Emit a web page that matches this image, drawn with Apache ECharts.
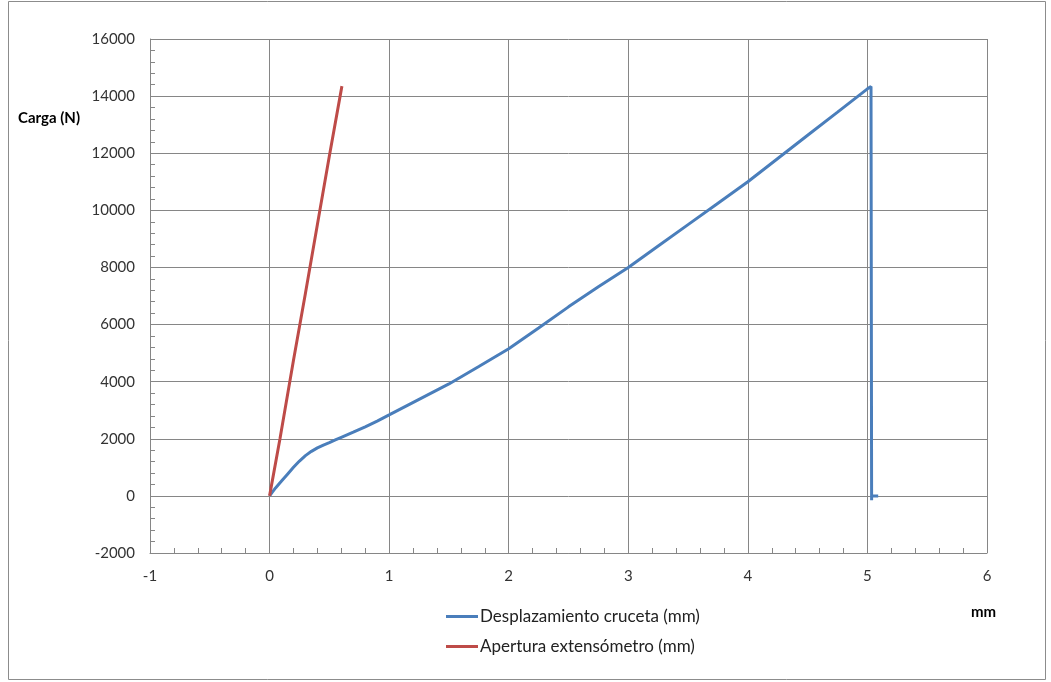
<!DOCTYPE html>
<html>
<head>
<meta charset="utf-8">
<script src="https://cdn.jsdelivr.net/npm/echarts@6/dist/echarts.min.js"></script>
<style>
html,body{margin:0;padding:0;background:#fff;}
#c{width:1051px;height:682px;}
</style>
</head>
<body>
<div id="c"></div>
<script>
const seriesNames = ['Desplazamiento cruceta (mm)', 'Apertura extensómetro (mm)'];
const crucetaX = [0, 0.02, 0.05, 0.1, 0.15, 0.2, 0.25, 0.3, 0.35, 0.4, 0.45, 0.5, 0.55, 0.6, 0.7, 0.8, 0.9, 1.0, 1.25, 1.5, 1.75, 2.0, 2.25, 2.5, 2.75, 3.0, 3.25, 3.5, 3.75, 4.0, 4.25, 4.5, 4.75, 5.0, 5.03, 5.035, 5.035, 5.09];
const crucetaY = [0, 115, 280, 520, 760, 1000, 1220, 1410, 1560, 1680, 1780, 1865, 1960, 2050, 2230, 2420, 2620, 2836, 3380, 3920, 4530, 5150, 5880, 6620, 7320, 8000, 8750, 9500, 10250, 11000, 11815, 12630, 13440, 14255, 14340, -150, 0, 0];
const extX = [0, 0.087, 0.2, 0.3, 0.4, 0.5, 0.605];
const extY = [0, 2000, 4750, 7100, 9500, 11900, 14350];
const yAxisTitle = 'Carga (N)';
const xAxisTitle = 'mm';

const font = 'Lato, "Liberation Sans", sans-serif';
const pair = (xs, ys) => xs.map((x, i) => [x, ys[i]]);
const X_MIN = -1, X_MAX = 6, X_STEP = 1;
const Y_MIN = -2000, Y_MAX = 16000, Y_STEP = 2000;

// helper axes that only carry the minor ticks, shifted so the ticks sit inside the plot
const tickOnlyX = {
  type: 'value', min: X_MIN, max: X_MAX, interval: X_STEP, position: 'bottom', offset: -5,
  axisLine: {show: false, onZero: false}, axisTick: {show: false}, axisLabel: {show: false}, splitLine: {show: false},
  minorTick: {show: true, splitNumber: 5, length: 5, lineStyle: {color: '#868686'}}
};
const tickOnlyY = {
  type: 'value', min: Y_MIN, max: Y_MAX, interval: Y_STEP, position: 'left', offset: -5,
  axisLine: {show: false, onZero: false}, axisTick: {show: false}, axisLabel: {show: false}, splitLine: {show: false},
  minorTick: {show: true, splitNumber: 5, length: 5, lineStyle: {color: '#868686'}}
};

const chart = echarts.init(document.getElementById('c'), null, {renderer: 'canvas'});
chart.setOption({
  animation: false,
  backgroundColor: '#fff',
  grid: {left: 150, right: 64, top: 39, bottom: 129, containLabel: false},
  xAxis: [{
    type: 'value', min: X_MIN, max: X_MAX, interval: X_STEP, position: 'bottom',
    axisLine: {onZero: false, lineStyle: {color: '#868686', width: 1}},
    axisTick: {show: false},
    splitLine: {show: true, lineStyle: {color: '#868686', width: 1}},
    axisLabel: {color: '#333', fontFamily: font, fontSize: 15, margin: 16}
  }, tickOnlyX],
  yAxis: [{
    type: 'value', min: Y_MIN, max: Y_MAX, interval: Y_STEP, position: 'left',
    axisLine: {show: true, onZero: false, lineStyle: {color: '#868686', width: 1}},
    axisTick: {show: false},
    splitLine: {show: true, lineStyle: {color: '#868686', width: 1}},
    axisLabel: {color: '#333', fontFamily: font, fontSize: 15, margin: 15, formatter: v => String(v)}
  }, tickOnlyY],
  legend: {
    orient: 'vertical', left: 441, top: 603, itemGap: 13,
    itemWidth: 32, itemHeight: 3, icon: 'rect',
    textStyle: {fontFamily: font, fontSize: 17, color: '#222', padding: [0, 0, 0, -3]},
    data: seriesNames
  },
  graphic: [
    {type: 'rect', shape: {x: 8.5, y: 1.5, width: 1037, height: 678}, style: {fill: 'none', stroke: '#8c8c8c', lineWidth: 1}, silent: true},
    {type: 'text', left: 18, top: 111, style: {text: yAxisTitle, font: 'bold 15px ' + font, fill: '#000'}},
    {type: 'text', left: 971, top: 605, style: {text: xAxisTitle, font: 'bold 15px ' + font, fill: '#000'}}
  ],
  series: [
    {name: seriesNames[0], type: 'line', xAxisIndex: 0, yAxisIndex: 0, data: pair(crucetaX, crucetaY), showSymbol: false, symbol: 'none',
     lineStyle: {color: '#4a7ebb', width: 3}, itemStyle: {color: '#4a7ebb'}, z: 3},
    {name: seriesNames[1], type: 'line', xAxisIndex: 0, yAxisIndex: 0, data: pair(extX, extY), showSymbol: false, symbol: 'none',
     lineStyle: {color: '#be4b48', width: 3}, itemStyle: {color: '#be4b48'}, z: 4}
  ]
});
</script>
</body>
</html>
